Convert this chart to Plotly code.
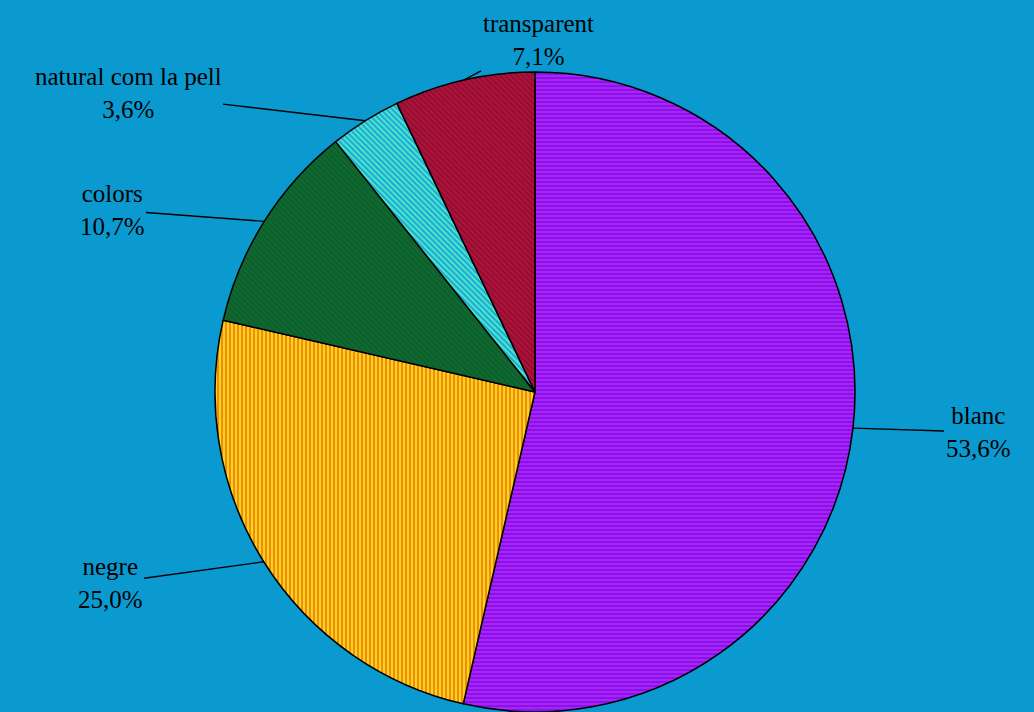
import numpy as np
import plotly.graph_objects as go

labels = ["blanc", "negre", "colors", "natural com la pell", "transparent"]
values = [53.6, 25.0, 10.7, 3.6, 7.1]
colors = ["#B81EEE", "#FFD21A", "#0F6A30", "#3CF2C8", "#B2123C"]
stripe_colors = ["#3A12F2", "#E0480A", "#0A5426", "#1E46E6", "#6E0A26"]
stripe_shapes = ["-", "|", "\\", "\\", "\\"]

# text anchor for each label (pixels from top-left), picked to match the original layout
label_pos = {
    "blanc": (978, 432),
    "negre": (110, 583),
    "colors": (112, 210),
    "natural com la pell": (128, 93),
    "transparent": (538, 40),
}

W, H = 1034, 712
cx, cy, r = 535, 392, 320

fig = go.Figure(go.Pie(
    labels=labels,
    values=values,
    sort=False,
    direction="clockwise",
    rotation=0,
    textinfo="none",
    hoverinfo="label+percent",
    showlegend=False,
    marker=dict(
        colors=colors,
        line=dict(color="black", width=1.5),
        pattern=dict(shape=stripe_shapes, fgcolor=stripe_colors,
                     fillmode="overlay", size=4, solidity=0.5),
    ),
    domain=dict(x=[(cx - r) / W, (cx + r) / W], y=[(H - cy - r) / H, (H - cy + r) / H]),
))

# leader lines: from each slice's mid angle on the rim to its label
total = sum(values)
start = 0.0
for lab, v in zip(labels, values):
    mid = (start + v / 2) / total * 2 * np.pi
    start += v
    ex = cx + r * np.sin(mid)
    ey = cy - r * np.cos(mid)
    tx, ty = label_pos[lab]
    pct = f"{v:.1f}".replace(".", ",") + "%"
    fig.add_annotation(
        x=ex / W, y=1 - ey / H, xref="paper", yref="paper",
        ax=tx - ex, ay=ty - ey, axref="pixel", ayref="pixel",
        text=f"{lab}<br>{pct}", showarrow=True, arrowhead=0,
        arrowwidth=1.4, arrowcolor="black", standoff=0,
        font=dict(family="Liberation Serif, DejaVu Serif, serif", size=25, color="black"),
        align="center",
    )

fig.update_layout(
    width=W, height=H,
    margin=dict(l=0, r=0, t=0, b=0),
    paper_bgcolor="#0B9ACF",
    plot_bgcolor="#0B9ACF",
    separators=",.",
)

# drop the page's default body margin so the chart fills the window
fig.write_html("out.html", config={"displayModeBar": False},
               post_script="document.body.style.margin='0';document.body.style.overflow='hidden';")
